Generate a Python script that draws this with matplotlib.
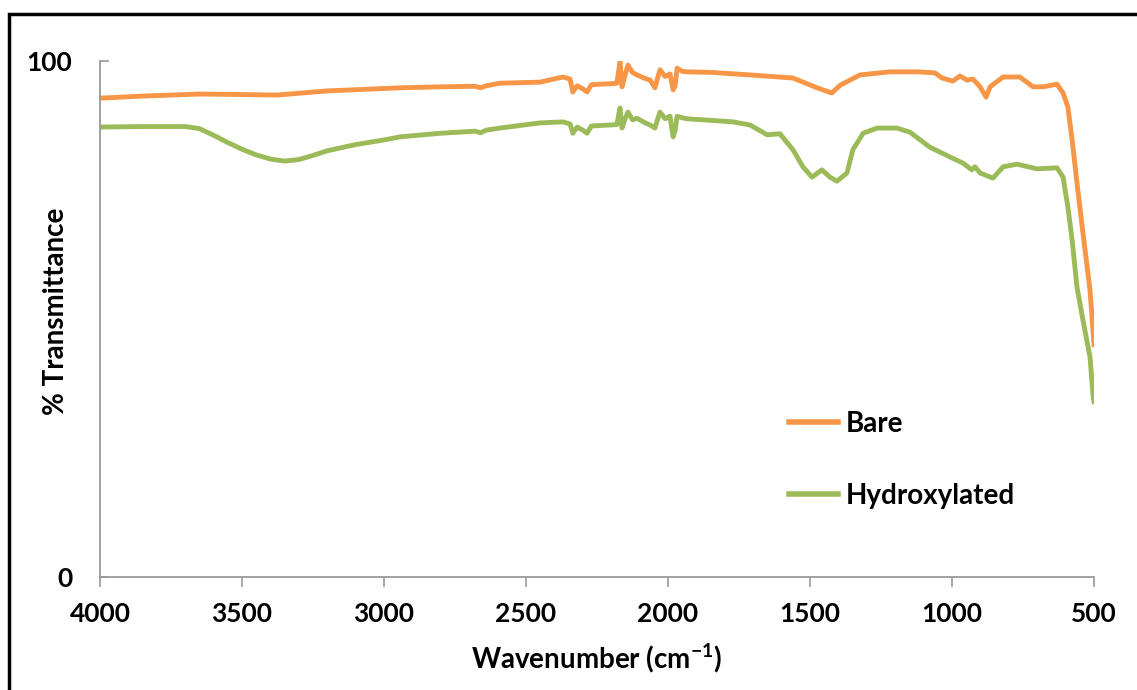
import matplotlib
matplotlib.use("Agg")
import matplotlib.pyplot as plt
from matplotlib.patches import Rectangle

plt.rcParams['font.family'] = ['Lato', 'DejaVu Sans']
plt.rcParams['font.weight'] = 'bold'
plt.rcParams['mathtext.fontset'] = 'custom'
plt.rcParams['mathtext.rm'] = 'Lato:bold'
plt.rcParams['mathtext.default'] = 'rm'

# FTIR spectra (wavenumber in cm-1, % transmittance)
bare_wn = [4000, 3850, 3648, 3500, 3377, 3201, 2944, 2800, 2680, 2660, 2640, 2592,
           2451, 2370, 2345, 2335, 2320, 2300, 2285, 2270, 2239, 2200, 2180, 2169,
           2165, 2162, 2150, 2141, 2125, 2109, 2080, 2063, 2046, 2035, 2028, 2010,
           1993, 1982, 1975, 1968, 1950, 1933, 1850, 1711, 1560, 1475, 1423, 1394,
           1324, 1218, 1123, 1060, 1035, 997, 972, 947, 926, 901, 880, 866,
           820, 761, 715, 680, 630, 609, 592, 577, 560, 539, 514, 503, 500]
bare_t = [92.8, 93.2, 93.6, 93.5, 93.4, 94.2, 94.8, 95.0, 95.1, 94.8, 95.2, 95.7,
          95.9, 96.9, 96.5, 94.0, 95.2, 94.6, 94.0, 95.4, 95.5, 95.6, 95.7, 99.8,
          97.0, 95.0, 97.5, 99.2, 97.8, 97.3, 96.6, 96.3, 94.8, 97.0, 98.3, 97.0,
          97.5, 94.4, 95.2, 98.6, 98.0, 97.9, 97.8, 97.3, 96.7, 94.8, 93.8, 95.3,
          97.3, 97.9, 97.9, 97.7, 96.7, 96.1, 97.1, 96.3, 96.5, 95.0, 93.0, 95.0,
          96.9, 96.9, 95.0, 95.0, 95.5, 93.8, 91.1, 84.7, 76.4, 66.7, 55.6, 47.3, 45.0]

hyd_wn = [4000, 3850, 3700, 3650, 3600, 3550, 3500, 3450, 3400, 3350, 3300, 3250,
          3200, 3100, 3000, 2944, 2800, 2680, 2660, 2640,
          2592, 2451, 2370, 2345, 2335, 2320, 2300, 2285, 2270, 2239, 2200, 2180,
          2169, 2165, 2162, 2150, 2141, 2125, 2109, 2080, 2063, 2046, 2035, 2028,
          2010, 1993, 1982, 1975, 1968, 1950, 1933, 1850, 1771, 1711, 1651, 1606,
          1560, 1525, 1493, 1458, 1430, 1405, 1370, 1349, 1313, 1264, 1194, 1148,
          1078, 1007, 961, 930, 919, 901, 856, 820, 771, 701, 630, 609,
          592, 577, 560, 539, 514, 503, 500]
hyd_t = [87.2, 87.3, 87.3, 86.9, 85.6, 84.2, 82.9, 81.8, 81.0, 80.6, 80.9, 81.7,
         82.6, 83.8, 84.7, 85.3, 86.0, 86.4, 86.1, 86.6,
         87.0, 88.0, 88.2, 87.8, 86.0, 87.2, 86.6, 86.0, 87.4, 87.5, 87.6, 87.7,
         90.9, 88.5, 87.0, 89.0, 90.1, 88.6, 88.9, 88.0, 87.6, 87.0, 89.0, 90.1,
         88.8, 89.3, 85.3, 86.5, 89.3, 89.0, 88.8, 88.5, 88.2, 87.6, 85.7, 85.9,
         82.8, 79.5, 77.5, 78.9, 77.5, 76.7, 78.3, 82.8, 86.0, 87.0, 87.0, 86.2,
         83.3, 81.4, 80.2, 78.9, 79.5, 78.3, 77.3, 79.5, 80.0, 79.1, 79.3, 77.5,
         71.7, 65.3, 56.2, 49.8, 42.6, 34.9, 34.0]

x_ticks = [4000, 3500, 3000, 2500, 2000, 1500, 1000, 500]
y_ticks = [0, 100]

W, H = 1137, 690
fig = plt.figure(figsize=(W / 100, H / 100), dpi=100)
ax = fig.add_axes([100 / W, 1 - 577 / H, 994 / W, 516 / H])

ax.plot(bare_wn, bare_t, color='#F79646', lw=3.5, label='Bare', solid_joinstyle='round')
ax.plot(hyd_wn, hyd_t, color='#9BBB59', lw=3.5, label='Hydroxylated', solid_joinstyle='round')

ax.set_xlim(4000, 500)
ax.set_ylim(0, 100)
ax.set_xticks(x_ticks)
ax.set_yticks(y_ticks)

for s in ['top', 'right']:
    ax.spines[s].set_visible(False)
for s in ['left', 'bottom']:
    ax.spines[s].set_color('#9a9a9a')
    ax.spines[s].set_linewidth(1.3)

ax.tick_params(axis='x', direction='out', length=7, width=1.2, color='#9a9a9a',
               labelsize=19, pad=11)
ax.tick_params(axis='y', direction='in', length=6.5, width=1.2, color='#9a9a9a',
               labelsize=19, pad=20)

ax.set_xlabel('Wavenumber (cm$^{-1}$)', fontsize=20, fontweight='bold', labelpad=11)
ax.set_ylabel('% Transmittance', fontsize=20, fontweight='bold')
ax.yaxis.set_label_coords(-0.031, (577 - 311) / 516)

leg = ax.legend(loc='center left', bbox_to_anchor=(789 / W, 1 - 460 / H),
                bbox_transform=fig.transFigure, frameon=False, fontsize=20,
                handlelength=1.75, handletextpad=0.3, labelspacing=1.65,
                borderpad=0, borderaxespad=0)
for h in leg.get_lines():
    h.set_linewidth(4)

# outer frame of the chart area
fig.patches.append(Rectangle((9 / W, -0.5), 2, 0.5 + 1 - 14 / H, transform=fig.transFigure,
                             fill=False, edgecolor='black', lw=2.5))

plt.savefig('out.png', dpi=100)
plt.close()
